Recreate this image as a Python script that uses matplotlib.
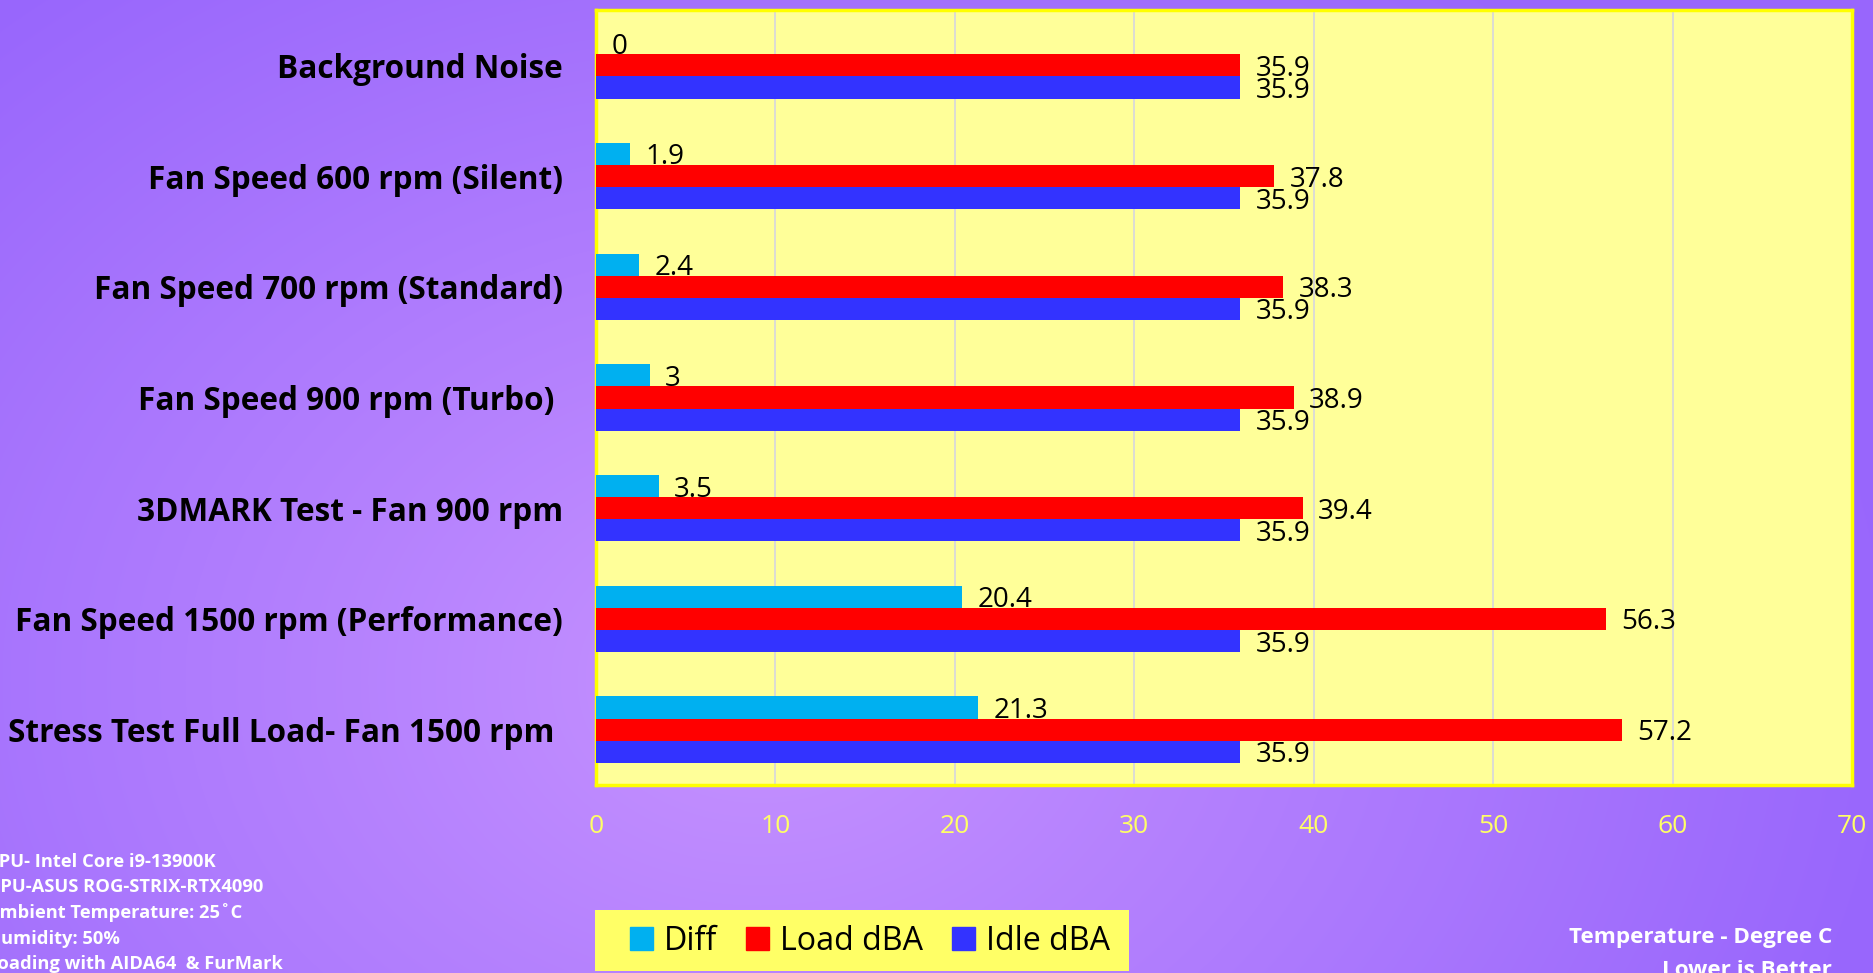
import matplotlib.pyplot as plt
import numpy as np
from matplotlib.patches import Patch, Rectangle

plt.rcParams["font.family"] = ["Open Sans", "DejaVu Sans"]

# noise test results per scenario
categories = [
    "Background Noise",
    "Fan Speed 600 rpm (Silent)",
    "Fan Speed 700 rpm (Standard)",
    "Fan Speed 900 rpm (Turbo) ",
    "3DMARK Test - Fan 900 rpm",
    "Fan Speed 1500 rpm (Performance)",
    "Stress Test Full Load- Fan 1500 rpm ",
]
diff_dba = [0, 1.9, 2.4, 3, 3.5, 20.4, 21.3]
load_dba = [35.9, 37.8, 38.3, 38.9, 39.4, 56.3, 57.2]
idle_dba = [35.9, 35.9, 35.9, 35.9, 35.9, 35.9, 35.9]
x_ticks = [0, 10, 20, 30, 40, 50, 60, 70]

system_notes = [
    "CPU- Intel Core i9-13900K",
    "GPU-ASUS ROG-STRIX-RTX4090",
    "Ambient Temperature: 25\u02daC",
    "Humidity: 50%",
    "Loading with AIDA64  & FurMark",
]

C_DIFF = "#00B0F0"
C_LOAD = "#FF0000"
C_IDLE = "#3333FF"

W, H = 1874, 973
fig = plt.figure(figsize=(W / 100, H / 100), dpi=100)

# purple radial background
bg = fig.add_axes([0, 0, 1, 1], zorder=-10)
yy, xx = np.mgrid[0:H, 0:W]
d = np.sqrt(((xx - 760) / 1150.0) ** 2 + ((yy - 680) / 900.0) ** 2)
d = np.clip(d, 0, 1)[..., None]
light = np.array([198, 146, 255]) / 255
dark = np.array([152, 102, 252]) / 255
bg.imshow(light * (1 - d) + dark * d, aspect="auto", extent=[0, 1, 0, 1])
bg.axis("off")

ax = fig.add_axes([596 / W, 1 - 785 / H, 1256 / W, 775 / H])
ax.set_facecolor("#FFFF99")
for s in ax.spines.values():
    s.set_color("#FFFF00")
    s.set_linewidth(2.5)

y = np.arange(len(categories))
h = 0.2
bars_d = ax.barh(y - h, diff_dba, height=h, color=C_DIFF, zorder=3)
bars_l = ax.barh(y, load_dba, height=h, color=C_LOAD, zorder=3)
bars_i = ax.barh(y + h, idle_dba, height=h, color=C_IDLE, zorder=3)

for bars, vals in ((bars_d, diff_dba), (bars_l, load_dba), (bars_i, idle_dba)):
    for b, v in zip(bars, vals):
        ax.annotate(f"{v:g}", (v, b.get_y() + b.get_height() / 2),
                    xytext=(11, 0), textcoords="offset points",
                    va="center_baseline", ha="left", fontsize=20,
                    color="black", zorder=4)

ax.set_xlim(0, 70)
ax.set_ylim(len(categories) - 0.5, -0.5)
ax.set_xticks(x_ticks)
ax.set_xticklabels([str(t) for t in x_ticks], color="#FFFF66", fontsize=19)
ax.set_yticks(y)
ax.set_yticklabels(categories, fontsize=22.7, fontweight="bold", color="black")
ax.tick_params(axis="x", length=0, pad=21)
ax.tick_params(axis="y", length=0, pad=24)
ax.grid(axis="x", color="#D9D9D9", linewidth=1.3, zorder=0)
ax.set_axisbelow(True)

# legend panel
fig.patches.append(Rectangle((595 / W, 1 - 971 / H), 534 / W, 61 / H,
                             transform=fig.transFigure, facecolor="#FFFF66",
                             edgecolor="none", zorder=1))
handles = [Patch(color=C_DIFF), Patch(color=C_LOAD), Patch(color=C_IDLE)]
leg = fig.legend(handles, ["Diff", "Load dBA", "Idle dBA"], ncol=3,
                 loc="center", bbox_to_anchor=(870 / W, 1 - 941 / H),
                 fontsize=23.2, frameon=False,
                 handlelength=0.7, handleheight=0.7, handletextpad=0.35,
                 columnspacing=0.9)
leg.set_zorder(2)

for i, line in enumerate(system_notes):
    fig.text(-13 / W, 1 - (862 + i * 25.5) / H, line, color="white",
             fontsize=13.2, fontweight="bold", va="center", ha="left")

fig.text(1832 / W, 1 - 938 / H, "Temperature - Degree C", color="white",
         fontsize=16.2, fontweight="bold", va="center", ha="right")
fig.text(1832 / W, 1 - 970 / H, "Lower is Better", color="white",
         fontsize=16.2, fontweight="bold", va="center", ha="right")

fig.savefig("out.png", dpi=100)
